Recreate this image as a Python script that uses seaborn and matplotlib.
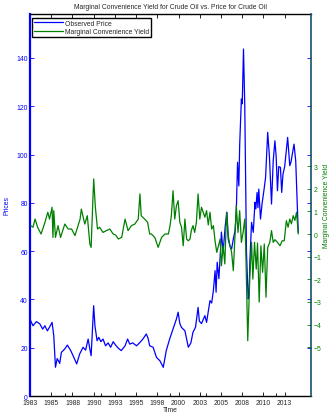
import numpy as np
import pandas as pd
import matplotlib
matplotlib.use("Agg")
import matplotlib.pyplot as plt
import seaborn as sns

# Observed crude oil price (left axis)
price_years = [1983.08, 1983.35, 1983.75, 1984.15, 1984.5, 1984.75, 1985.05, 1985.3, 1985.6, 1985.8,
               1986.0, 1986.2, 1986.35, 1986.5, 1986.7, 1987.1, 1987.4, 1987.8, 1988.1, 1988.5,
               1988.85, 1989.25, 1989.55, 1989.85, 1990.05, 1990.2, 1990.5, 1990.65, 1990.9, 1991.1,
               1991.35, 1991.6, 1991.9, 1992.2, 1992.5, 1992.8, 1993.1, 1993.4, 1993.75, 1994.2,
               1994.5, 1994.75, 1995.1, 1995.55, 1995.9, 1996.3, 1996.7, 1996.9, 1997.1, 1997.5,
               1997.9, 1998.3, 1998.7, 1999.05, 1999.45, 1999.85, 2000.25, 2000.45, 2000.65, 2000.85,
               2001.25, 2001.65, 2001.95, 2002.2, 2002.5, 2002.8, 2002.95, 2003.2, 2003.6, 2003.8,
               2004.2, 2004.4, 2004.6, 2004.8, 2004.92, 2005.05, 2005.25, 2005.45, 2005.55, 2005.75,
               2006.0, 2006.2, 2006.35, 2006.55, 2006.75, 2006.95, 2007.15, 2007.3, 2007.45, 2007.6,
               2007.7, 2007.9, 2008.0, 2008.15, 2008.3, 2008.5, 2008.7, 2008.8, 2008.9, 2009.1,
               2009.3, 2009.5, 2009.6, 2009.75, 2009.85, 2009.95, 2010.15, 2010.35, 2010.55, 2010.75,
               2011.0, 2011.2, 2011.45, 2011.65, 2011.85, 2012.0, 2012.15, 2012.3, 2012.5, 2012.65,
               2012.8, 2013.0, 2013.35, 2013.6, 2013.75, 2014.1, 2014.3, 2014.6]
price = [31.2, 29.1, 30.8, 29.9, 27.7, 29.1, 27.0, 28.5, 30.5, 25.0,
         11.9, 15.5, 14.6, 13.5, 18.1, 19.5, 21.1, 18.8, 16.5, 13.3,
         17.4, 20.2, 19.0, 23.6, 19.5, 16.7, 37.4, 29.1, 22.9, 24.3,
         22.5, 23.6, 20.8, 22.0, 20.2, 22.5, 21.0, 19.8, 18.8, 20.8,
         23.6, 21.5, 22.0, 20.8, 22.0, 23.6, 25.7, 24.0, 20.8, 20.2,
         16.0, 14.6, 11.9, 18.8, 23.6, 27.7, 31.9, 34.7, 30.0, 28.4,
         27.0, 20.2, 22.0, 26.4, 28.5, 36.7, 31.0, 30.0, 33.3, 30.5,
         39.5, 38.5, 43.6, 51.9, 43.0, 55.4, 48.6, 60.9, 67.9, 59.6,
         70.5, 76.1, 65.0, 62.2, 60.9, 65.0, 68.4, 76.1, 96.8, 87.0,
         104.0, 123.0, 121.0, 143.7, 120.0, 59.6, 40.2, 41.5, 56.0, 71.9,
         67.8, 80.2, 77.5, 84.3, 78.0, 85.7, 73.3, 80.0, 85.0, 90.5,
         109.2, 99.5, 79.5, 97.4, 105.7, 99.0, 85.0, 95.0, 94.7, 84.3,
         91.9, 95.0, 107.1, 95.4, 97.0, 104.3, 97.4, 67.8]

# Marginal convenience yield (right axis)
mcy_years = [1983.08, 1983.35, 1983.6, 1983.9, 1984.3, 1984.7, 1985.1, 1985.3, 1985.6, 1985.7,
             1985.8, 1986.0, 1986.3, 1986.6, 1987.1, 1987.5, 1987.9, 1988.3, 1988.9, 1989.05,
             1989.45, 1989.75, 1990.05, 1990.2, 1990.5, 1990.7, 1990.95, 1991.2, 1991.6, 1992.0,
             1992.4, 1992.8, 1993.1, 1993.4, 1993.8, 1994.2, 1994.55, 1994.95, 1995.35, 1995.75,
             1995.95, 1996.1, 1996.5, 1996.85, 1997.1, 1997.3, 1997.7, 1998.1, 1998.5, 1998.9,
             1999.3, 1999.5, 1999.65, 1999.85, 2000.05, 2000.25, 2000.45, 2000.65, 2000.85, 2001.05,
             2001.25, 2001.45, 2001.65, 2001.85, 2002.0, 2002.2, 2002.4, 2002.6, 2002.8, 2003.0,
             2003.2, 2003.6, 2003.8, 2004.0, 2004.2, 2004.4, 2004.6, 2004.8, 2005.0, 2005.2,
             2005.4, 2005.55, 2005.75, 2005.95, 2006.15, 2006.35, 2006.55, 2006.75, 2006.95, 2007.15,
             2007.3, 2007.5, 2007.7, 2007.9, 2008.1, 2008.3, 2008.4, 2008.65, 2008.9, 2009.1,
             2009.25, 2009.45, 2009.65, 2009.8, 2010.0, 2010.2, 2010.4, 2010.6, 2010.8, 2011.0,
             2011.25, 2011.45, 2011.65, 2011.85, 2012.15, 2012.45, 2012.7, 2012.95, 2013.2, 2013.4,
             2013.6, 2013.8, 2014.0, 2014.2, 2014.4, 2014.6]
mcy = [0.37, 0.30, 0.66, 0.30, 0.00, 0.44, 0.96, 0.66, 1.18, -0.15,
       1.03, -0.15, 0.37, -0.15, 0.44, 0.22, 0.22, -0.07, 0.66, 1.10,
       0.44, 0.81, -0.44, -0.59, 2.43, 1.18, 0.22, 0.30, 0.07, 0.15,
       0.22, 0.00, -0.05, -0.22, -0.15, 0.66, 0.15, 0.37, 0.44, 0.66,
       1.77, 0.81, 0.66, 0.52, 0.00, 0.00, -0.15, -0.59, -0.15, 0.00,
       0.00, 0.37, 0.81, 1.91, 0.66, 1.25, 1.47, 0.52, 0.30, -0.52,
       0.66, -0.22, -0.30, -0.22, 0.15, 0.37, 0.07, 0.52, 1.77, 0.66,
       1.18, 0.74, 1.03, 0.40, 0.96, 0.22, 0.37, -0.30, -0.81, -0.52,
       -0.22, -1.40, -0.52, -1.32, 0.96, -0.07, -0.52, -0.81, -1.62, -0.07,
       1.25, 0.07, 1.03, -0.37, 0.07, 0.66, -0.37, -4.71, -1.84, -0.37,
       -1.99, -0.37, -1.55, -0.40, -3.00, -0.52, -1.69, -0.44, -2.79, -0.59,
       -0.37, 0.15, -0.37, -0.25, -0.37, -0.52, -0.30, -0.30, 0.59, 0.30,
       0.66, 0.45, 0.81, 0.60, 0.96, 0.00]

year_ticks = [1983, 1985.5, 1988, 1990.5, 1993, 1995.5, 1998, 2000.5, 2003, 2005.5, 2008, 2010.5, 2013]
year_labels = ["1983", "1985", "1988", "1990", "1993", "1995", "1998", "2000", "2003", "2005", "2008", "2010", "2013"]
minor_ticks = [1987.1, 1991.4, 1999.5, 2003.75, 2012.0]
price_ticks = [0, 20, 40, 60, 80, 100, 120, 140]
mcy_ticks = [-5, -4, -3, -2, -1, 0, 1, 2, 3]

sns.set_style("ticks")
plt.rcParams["font.family"] = ["Liberation Sans", "DejaVu Sans"]
fs = 4.9
blue = (0, 0, 1)
green = (0, 0.5, 0)

fig = plt.figure(figsize=(3.3, 4.14), dpi=100)
ax = fig.add_axes([0.0909, 0.041, 0.8515, 0.9228])
ax2 = ax.twinx()

sns.lineplot(x=price_years, y=price, ax=ax, color=blue, linewidth=0.9,
             estimator=None, sort=False, label="Observed Price", legend=False)
sns.lineplot(x=mcy_years, y=mcy, ax=ax2, color=green, linewidth=0.9,
             estimator=None, sort=False, label="Marginal Convenience Yield", legend=False)

ax.set_xlim(1983, 2016.1)
ax.set_ylim(0, 158.2)
ax2.set_ylim(-7.15, 9.71)

ax.set_xticks(year_ticks)
ax.set_xticklabels(year_labels)
ax.set_xticks(minor_ticks, minor=True)
ax.set_yticks(price_ticks)
ax.set_yticklabels([str(v) for v in price_ticks])
ax2.set_yticks(mcy_ticks)
ax2.set_yticklabels([str(v).replace("-", "\u2212") for v in mcy_ticks])

ax.tick_params(axis="x", which="both", direction="in", top=True, length=3, width=0.6,
               labelsize=fs, pad=2.5, color="black")
ax.tick_params(axis="x", which="minor", top=False, length=2)
ax.tick_params(axis="y", direction="in", length=3, width=0.6, labelsize=fs, pad=1.5,
               colors=blue, right=True)
ax2.tick_params(axis="y", direction="in", length=3, width=0.6, labelsize=fs, pad=2,
                colors=green)

for s in ["top", "bottom"]:
    ax.spines[s].set_color("black")
    ax.spines[s].set_linewidth(1.0)
    ax2.spines[s].set_visible(False)
ax.spines["left"].set_color(blue)
ax.spines["left"].set_linewidth(1.6)
ax.spines["right"].set_visible(False)
ax2.spines["left"].set_visible(False)
ax2.spines["right"].set_color("#16506a")
ax2.spines["right"].set_linewidth(1.2)

ax.set_xlabel("Time", fontsize=fs, labelpad=0)
ax.set_ylabel("Prices", fontsize=fs, color=blue, labelpad=4)
ax2.set_ylabel("Marginal Convenience Yield", fontsize=fs, color=green, labelpad=1)
ax.set_title("Marginal Convenience Yield for Crude Oil vs. Price for Crude Oil", fontsize=fs, pad=4)

handles = ax.get_lines()[:1] + ax2.get_lines()[:1]
leg = ax2.legend(handles, ["Observed Price", "Marginal Convenience Yield"], loc="upper left",
                 bbox_to_anchor=(0.007, 0.99), borderaxespad=0, fontsize=fs, fancybox=False,
                 framealpha=1, edgecolor="black", handlelength=4.2, handletextpad=0.3,
                 borderpad=0.3, labelspacing=0.2)
leg.get_frame().set_linewidth(1.0)

fig.savefig("out.png", dpi=100)
